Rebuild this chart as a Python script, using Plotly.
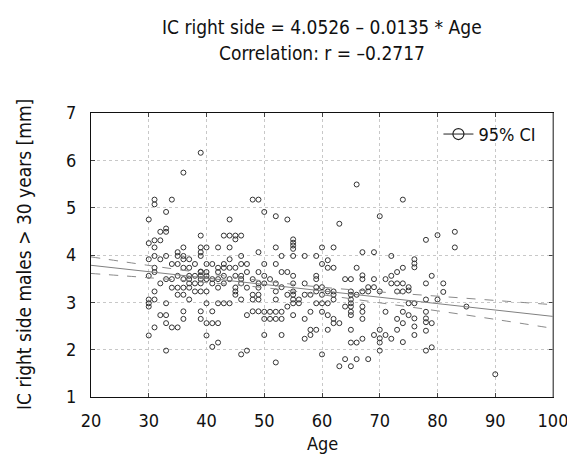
import plotly.graph_objects as go

# ---- data ----
ages = [
    39, 36, 31, 31, 34, 48, 49, 33, 30, 44, 32, 33, 33, 39, 43, 44, 45, 45, 46, 31, 32,
    66, 74, 50, 52, 54, 70, 63, 55, 55, 55, 55,
    30, 36, 39, 40, 42, 44, 31,
    35, 39, 31, 33, 35, 36, 39, 46, 49,
    30, 32, 36, 37, 44,
    34, 35, 38, 40, 41, 43, 46, 47,
    31, 36, 37, 42, 43, 44, 45, 39,
    31, 39, 40, 42, 47, 49,
    30, 35, 37, 38, 39, 40, 43, 45, 46,
    33, 34, 36, 37, 39, 40, 41, 42, 44, 46, 48,
    32, 37, 38, 39, 41, 43, 46, 49,
    34, 35, 36, 37, 42, 45, 47, 49,
    31, 38, 39, 40, 45,
    35, 36, 45, 48, 49,
    30, 31, 37, 46, 48, 49,
    30, 33, 40, 42, 43, 44,
    30,
    36, 39, 41, 48, 49,
    32, 33, 47,
    36, 39,
    33, 34, 35, 40, 41, 42, 31,
    30, 40, 42, 41, 33, 47, 46,
    52, 60, 62,
    67, 69,
    53, 55, 57, 59, 72,
    61,
    50, 52, 60,
    61, 62, 66,
    73, 53, 54,
    50, 55, 59, 72, 67,
    59, 67, 64, 65, 69, 71, 51,
    72, 73, 50, 52, 55, 57,
    53, 59, 60, 68, 69,
    52, 55, 59, 61, 62, 65, 67, 70, 73,
    54, 55, 57, 58, 60, 62, 65, 66, 68,
    52, 55, 56, 62, 65,
    55, 56, 59, 60, 61, 65, 67,
    54, 65, 64,
    50, 51, 52, 53, 58, 60, 65, 67, 71,
    55, 61, 65,
    50, 51, 52, 53, 57, 62, 67, 73,
    62, 63,
    58, 59, 61, 65, 70, 73,
    50, 53, 58, 69, 71, 70,
    57, 67, 72,
    65, 66, 70,
    70, 60,
    64, 66, 68,
    52, 63, 65,
    78, 80, 83, 83, 76, 76, 76, 74, 79, 74, 75, 75, 78, 81, 81, 78, 80,
    75, 76, 85, 74, 75, 76, 74, 78, 78, 78, 79, 78, 76, 76, 74, 78, 79, 90, 74,
]
ic_right = [
    6.16, 5.74, 5.17, 5.07, 5.17, 5.17, 5.17, 4.91, 4.75, 4.75, 4.49, 4.56, 4.49, 4.41, 4.41, 4.41, 4.41, 4.33, 4.41, 4.31, 4.31,
    5.49, 5.17, 4.91, 4.82, 4.75, 4.82, 4.66, 4.33, 4.26, 4.20, 4.13,
    4.25, 4.16, 4.16, 4.16, 4.16, 4.16, 4.16,
    4.06, 4.06, 3.98, 3.98, 3.98, 3.98, 3.98, 3.98, 4.06,
    3.91, 3.91, 3.91, 3.91, 3.91,
    3.81, 3.81, 3.81, 3.81, 3.81, 3.81, 3.81, 3.81,
    3.73, 3.73, 3.73, 3.73, 3.73, 3.73, 3.73, 3.65,
    3.64, 3.64, 3.64, 3.64, 3.64, 3.64,
    3.56, 3.56, 3.56, 3.56, 3.56, 3.56, 3.56, 3.56, 3.56,
    3.49, 3.49, 3.49, 3.49, 3.49, 3.49, 3.49, 3.49, 3.49, 3.49, 3.49,
    3.40, 3.40, 3.40, 3.40, 3.40, 3.40, 3.40, 3.40,
    3.31, 3.31, 3.31, 3.31, 3.31, 3.31, 3.31, 3.31,
    3.23, 3.23, 3.23, 3.23, 3.23,
    3.16, 3.16, 3.16, 3.16, 3.16,
    3.06, 3.06, 3.06, 3.06, 3.06, 3.06,
    2.98, 2.98, 2.98, 2.98, 2.98, 2.98,
    2.91,
    2.81, 2.81, 2.81, 2.81, 2.81,
    2.73, 2.73, 2.73,
    2.65, 2.65,
    2.56, 2.47, 2.47, 2.56, 2.56, 2.56, 2.47,
    2.30, 2.30, 2.15, 2.06, 1.98, 1.98, 1.90,
    4.16, 4.16, 4.16,
    4.06, 4.06,
    3.98, 3.98, 3.98, 3.98, 3.98,
    3.89,
    3.81, 3.81, 3.81,
    3.73, 3.73, 3.73,
    3.64, 3.64, 3.64,
    3.56, 3.56, 3.56, 3.56, 3.57,
    3.49, 3.49, 3.49, 3.49, 3.49, 3.49, 3.49,
    3.40, 3.40, 3.40, 3.40, 3.40, 3.40,
    3.32, 3.32, 3.32, 3.32, 3.32,
    3.23, 3.23, 3.23, 3.23, 3.23, 3.23, 3.23, 3.23, 3.23,
    3.16, 3.16, 3.16, 3.16, 3.16, 3.16, 3.16, 3.16, 3.23,
    3.06, 3.06, 3.06, 3.06, 3.06,
    2.98, 2.98, 2.98, 2.98, 2.98, 2.98, 2.91,
    2.91, 2.91, 2.91,
    2.80, 2.80, 2.80, 2.80, 2.80, 2.80, 2.80, 2.80, 2.80,
    2.73, 2.73, 2.73,
    2.65, 2.65, 2.65, 2.65, 2.65, 2.65, 2.65, 2.65,
    2.56, 2.56,
    2.42, 2.42, 2.42, 2.42, 2.42, 2.42,
    2.31, 2.31, 2.31, 2.31, 2.31, 2.24,
    2.23, 2.23, 2.23,
    2.15, 2.15, 2.15,
    1.98, 1.90,
    1.80, 1.80, 1.80,
    1.73, 1.65, 1.65,
    4.32, 4.42, 4.49, 4.16, 3.91, 3.82, 3.74, 3.73, 3.56, 3.40, 3.32, 3.25, 3.40, 3.40, 3.22, 3.06, 3.06,
    2.98, 2.98, 2.91, 2.80, 2.73, 2.66, 2.56, 2.80, 2.66, 2.58, 2.56, 2.40, 2.49, 2.31, 2.16, 1.98, 2.05, 1.48, 3.23,
]

# regression (from the chart title) and 95% confidence band
intercept = 4.0526
slope = -0.0135
fit_ages = [20, 100]
ci_ages = [20, 30, 40, 50, 60, 70, 80, 90, 100]
ci_upper = [3.96, 3.78, 3.61, 3.45, 3.32, 3.22, 3.13, 3.04, 2.95]
ci_lower = [3.61, 3.52, 3.42, 3.31, 3.16, 2.99, 2.82, 2.64, 2.45]

x_ticks = [20, 30, 40, 50, 60, 70, 80, 90, 100]
y_ticks = [1, 2, 3, 4, 5, 6, 7]

title_lines = ["IC right side = 4.0526 – 0.0135 * Age", "Correlation: r = –0.2717"]
x_title = "Age"
y_title = "IC right side males > 30 years [mm]"

FONT = "DejaVu Sans Condensed, Liberation Sans Narrow, sans-serif"

fig = go.Figure()
fig.add_trace(go.Scatter(
    x=ages, y=ic_right, mode="markers", showlegend=False,
    marker=dict(symbol="circle-open", size=5, color="#333", line=dict(width=1, color="#333")),
))
fig.add_trace(go.Scatter(
    x=fit_ages, y=[intercept + slope * a for a in fit_ages], mode="lines", showlegend=False,
    line=dict(color="#808080", width=1),
))
fig.add_trace(go.Scatter(
    x=ci_ages, y=ci_upper, mode="lines", showlegend=False,
    line=dict(color="#8a8a8a", width=1, dash="dash", shape="spline"),
))
fig.add_trace(go.Scatter(
    x=ci_ages, y=ci_lower, mode="lines", showlegend=False,
    line=dict(color="#8a8a8a", width=1, dash="dash", shape="spline"),
))
fig.add_trace(go.Scatter(
    x=[None], y=[None], mode="lines+markers", name="95% CI", showlegend=True,
    marker=dict(symbol="circle-open", size=11, color="#222", line=dict(width=1.2, color="#222")),
    line=dict(color="#222", width=1),
))

PLOT_H = 454 - 113 - 57
PLOT_W = 567 - 91 - 14

fig.update_layout(
    width=567, height=454,
    margin=dict(l=91, r=14, t=113, b=57, autoexpand=False),
    paper_bgcolor="white", plot_bgcolor="white",
    font=dict(family=FONT, size=18, color="#111"),
    legend=dict(
        x=0.752, y=0.99, xanchor="left", yanchor="top",
        bgcolor="rgba(0,0,0,0)", font=dict(family=FONT, size=18),
        itemwidth=30,
    ),
    xaxis=dict(
        range=[20, 100], tickvals=x_ticks, ticktext=[str(t) for t in x_ticks],
        showgrid=True, gridcolor="#c8c8c8", griddash="dot", gridwidth=1,
        zeroline=False, showline=True, linecolor="#111", linewidth=1.3, mirror="ticks",
        ticks="inside", ticklen=4, tickcolor="#444", automargin=False,
        ticklabelstandoff=7, ticklabeloverflow="allow",
    ),
    yaxis=dict(
        range=[1, 7], tickvals=y_ticks, ticktext=[str(t) for t in y_ticks],
        showgrid=True, gridcolor="#c8c8c8", griddash="dot", gridwidth=1,
        zeroline=False, showline=True, linecolor="#111", linewidth=1.3, mirror="ticks",
        ticks="inside", ticklen=4, tickcolor="#444", automargin=False,
        ticklabelstandoff=10,
    ),
    shapes=[dict(type="line", xref="paper", yref="paper", x0=1, x1=1, y0=0, y1=1,
                 line=dict(color="#8c8c8c", width=1.3), layer="above")],
    annotations=[
        dict(text=title_lines[0], xref="paper", yref="paper", x=0.5, y=(397 - 27) / PLOT_H,
             xanchor="center", yanchor="middle", showarrow=False, font=dict(family=FONT, size=19)),
        dict(text=title_lines[1], xref="paper", yref="paper", x=0.5, y=(397 - 53) / PLOT_H,
             xanchor="center", yanchor="middle", showarrow=False, font=dict(family=FONT, size=19)),
        dict(text=x_title, xref="paper", yref="paper", x=0.5, y=(397 - 443) / PLOT_H,
             xanchor="center", yanchor="middle", showarrow=False, font=dict(family=FONT, size=18)),
        dict(text=y_title, xref="paper", yref="paper", x=(24 - 91) / PLOT_W, y=0.5,
             xanchor="center", yanchor="middle", textangle=-90, showarrow=False,
             font=dict(family=FONT, size=19)),
    ],
)

fig.write_html("out.html")
